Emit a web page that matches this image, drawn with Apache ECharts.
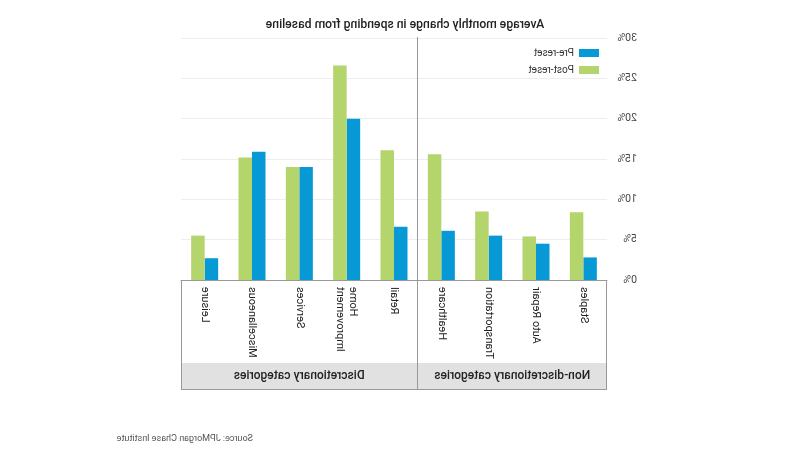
<!DOCTYPE html>
<html>
<head>
<meta charset="utf-8">
<script src="https://cdn.jsdelivr.net/npm/echarts@6/dist/echarts.min.js"></script>
<style>
html,body{margin:0;padding:0;background:#fff;}
#main{width:800px;height:450px;transform:scaleX(-1);}
</style>
</head>
<body>
<div id="main"></div>
<script>
// Data
const categories = ['Staples','Auto Repair','Transportation','Healthcare','Retail','Home\nImprovement','Services','Miscellaneous','Leisure'];
const groupLabels = ['Non-discretionary categories','Discretionary categories'];
const groupSizes = [4,5];
const preReset = [2.8, 4.5, 5.5, 6.1, 6.6, 20.0, 14.0, 15.9, 2.7];
const postReset = [8.4, 5.4, 8.5, 15.6, 16.1, 26.6, 14.0, 15.2, 5.5];
const yTicks = {min:0, max:30, interval:5};

const BLUE = '#0799d6';
const GREEN = '#b4d46c';
const FONT = 'Roboto, "Liberation Sans", sans-serif';

const gridLeft = 193, gridRight = 181, gridTop = 38, gridBottom = 170;
const boxBottom = 389, bandTop = 363;

const chart = echarts.init(document.getElementById('main'), null, {renderer:'canvas'});
chart.setOption({
  animation:false,
  backgroundColor:'#fff',
  textStyle:{fontFamily:FONT},
  title:{
    text:'Average monthly change in spending from baseline',
    left:390, textAlign:'center', top:14,
    textStyle:{fontSize:12.2, fontWeight:500, color:'#222', fontFamily:FONT}
  },
  legend:{
    orient:'vertical', left:196, top:43,
    itemWidth:20, itemHeight:8, itemGap:7,
    icon:'rect',
    textStyle:{fontSize:10, color:'#333', fontFamily:FONT},
    data:['Pre-reset','Post-reset']
  },
  grid:{left:gridLeft, right:gridRight, top:gridTop, bottom:gridBottom, containLabel:false},
  xAxis:{
    type:'category', data:categories,
    axisLine:{show:true, lineStyle:{color:'#999', width:1}},
    axisTick:{show:false},
    axisLabel:{rotate:90, margin:7, fontSize:11, color:'#222', lineHeight:13, interval:0, fontFamily:FONT}
  },
  yAxis:{
    type:'value', min:yTicks.min, max:yTicks.max, interval:yTicks.interval,
    axisLine:{show:false}, axisTick:{show:false},
    axisLabel:{formatter:'{value}%', align:'left', margin:30, fontSize:10.5, color:'#444', fontFamily:FONT},
    splitLine:{show:true, lineStyle:{color:'#eeeeee', width:1}}
  },
  series:[
    {name:'Pre-reset', type:'bar', data:preReset, barWidth:13.5, barGap:'0%', itemStyle:{color:BLUE}},
    {name:'Post-reset', type:'bar', data:postReset, barWidth:13.5, barGap:'0%', itemStyle:{color:GREEN}}
  ]
});

// Decorative category box computed from the axis scale
const W = 800;
const x0 = gridLeft, x1 = W - gridRight;
const yAxisPix = chart.convertToPixel({yAxisIndex:0}, 0);
const yTopPix = chart.convertToPixel({yAxisIndex:0}, yTicks.max);
const c3 = chart.convertToPixel({xAxisIndex:0}, categories[groupSizes[0]-1]);
const c4 = chart.convertToPixel({xAxisIndex:0}, categories[groupSizes[0]]);
const sepX = Math.round((c3 + c4) / 2) + 0.5;
const lineStyle = {stroke:'#999', lineWidth:1};
const g = [
  {type:'text', left:547, top:434, style:{text:'Source: JPMorgan Chase Institute', fontSize:9, fill:'#555', fontFamily:FONT}},
  {type:'rect', shape:{x:x0, y:bandTop, width:x1-x0, height:boxBottom-bandTop}, style:{fill:'#e1e1e1'}, z:0},
  {type:'line', shape:{x1:x0+0.5, y1:yAxisPix, x2:x0+0.5, y2:boxBottom}, style:lineStyle, z:5},
  {type:'line', shape:{x1:x1-0.5, y1:yAxisPix, x2:x1-0.5, y2:boxBottom}, style:lineStyle, z:5},
  {type:'line', shape:{x1:x0, y1:boxBottom+0.5, x2:x1, y2:boxBottom+0.5}, style:lineStyle, z:5},
  {type:'line', shape:{x1:sepX, y1:yTopPix-1, x2:sepX, y2:boxBottom}, style:lineStyle, z:5},
  {type:'text', x:(x0+sepX)/2, y:(bandTop+boxBottom)/2, style:{text:groupLabels[0], fontSize:12, fontWeight:500, fill:'#222', align:'center', verticalAlign:'middle', fontFamily:FONT}, z:6},
  {type:'text', x:(sepX+x1)/2, y:(bandTop+boxBottom)/2, style:{text:groupLabels[1], fontSize:12, fontWeight:500, fill:'#222', align:'center', verticalAlign:'middle', fontFamily:FONT}, z:6}
];
chart.setOption({graphic:g});
</script>
</body>
</html>
